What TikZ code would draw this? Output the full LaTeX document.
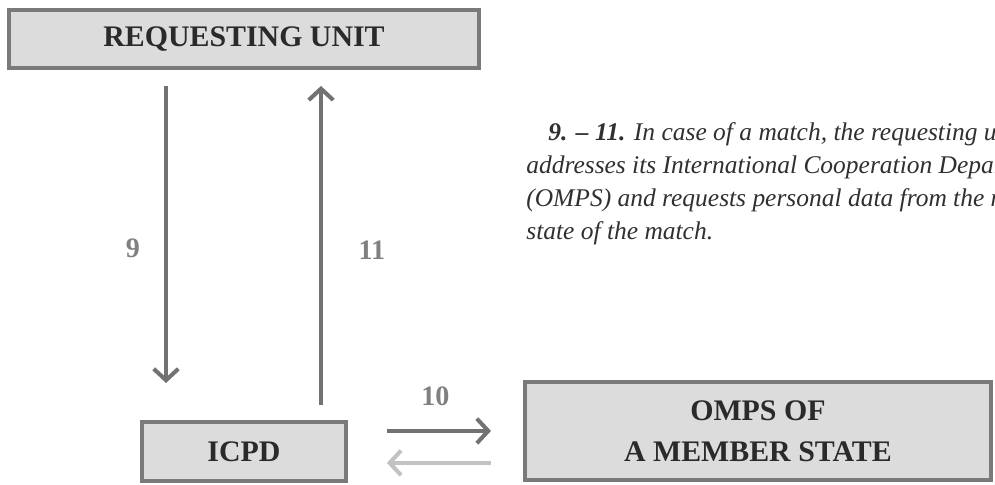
\documentclass[tikz,border=0pt]{standalone}
\usepackage{fontspec}
\setmainfont{Liberation Serif}
\usetikzlibrary{arrows.meta,positioning}
\definecolor{boxline}{HTML}{7A7A7A}
\definecolor{boxfill}{HTML}{DCDCDC}
\definecolor{boxtext}{HTML}{2A2A2A}
\definecolor{arrowdark}{HTML}{727272}
\definecolor{arrowlight}{HTML}{C2C2C2}
\definecolor{numgray}{HTML}{808080}
\definecolor{notetext}{HTML}{303030}

\begin{document}
\begin{tikzpicture}[x=0.02cm,y=-0.02cm,node distance=2cm,on grid,
    >={Straight Barb[length=6.5pt,width=14pt]},
    unit/.style={draw=boxline,fill=boxfill,line width=2.2pt,text=boxtext,
      font=\bfseries\fontsize{17}{23.2}\selectfont,align=center,inner sep=0pt},
    flow/.style={->,draw=arrowdark,line width=2.3pt},
    back/.style={->,draw=arrowlight,line width=2.3pt},
    num/.style={font=\bfseries\fontsize{16}{18}\selectfont,text=numgray},
    note/.style={font=\itshape\fontsize{14.5}{18.9}\selectfont,text=notetext,
      align=left,inner sep=0pt}]
            \useasboundingbox (0,0) rectangle (995,484);
            \clip (0,0) rectangle (995,484);
            \node[unit,minimum width=9.4cm,minimum height=1.16cm](req) at (244,39){REQUESTING UNIT};
            \node[unit,minimum width=4.08cm,minimum height=1.18cm,below=8.25cm of req](icpd){ICPD};
            \node[unit,minimum width=9.32cm,minimum height=1.96cm,above right=0.41cm and 10.28cm of icpd](omps){OMPS OF\\A MEMBER STATE};
            \node[note,anchor=north west](steps) at (526,122){\hspace*{0.44cm}\textbf{9. – 11.} In case of a match, the requesting unit\\
              addresses its International Cooperation Department\\
              (OMPS) and requests personal data from the member\\
              state of the match.};
            \coordinate (down) at ([xshift=-1.56cm]req.south);
            \coordinate (up) at ([xshift=1.54cm]icpd.north);
            \coordinate (ret) at ([yshift=-0.64cm]omps.west);
            \path
            (down) edge[flow,shorten <=0.32cm,shorten >=0.74cm] node[num,pos=0.51,xshift=-0.66cm] {9} (down |- icpd.north)
            (up) edge[flow,shorten <=0.3cm,shorten >=0.32cm] node[num,pos=0.486,xshift=1.02cm] {11} (up |- req.south)
            (icpd.east |- omps.west) edge[flow,shorten <=0.78cm,shorten >=0.64cm] node[num,pos=0.5,yshift=0.7cm] {10} (omps.west)
            (ret) edge[back,shorten <=0.64cm,shorten >=0.78cm] (icpd.east |- ret);
        \end{tikzpicture}
\end{document}
